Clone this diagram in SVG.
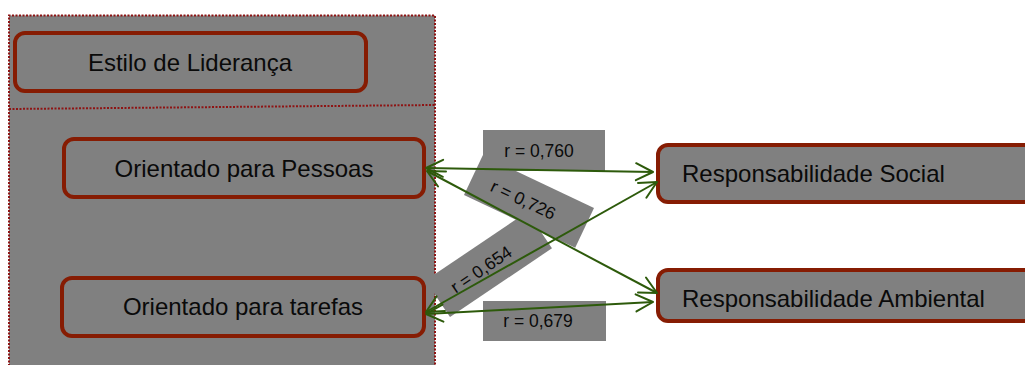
<svg xmlns="http://www.w3.org/2000/svg" width="1025" height="365" viewBox="0 0 1025 365">
<defs>
<style>
.node{fill:#808080;stroke:#861c03;stroke-width:4}
.lbl{fill:#808080}
.dot{fill:none;stroke:#8e1414;stroke-width:2;stroke-dasharray:2 1.5}
.t{font-family:"Liberation Sans",Arial,sans-serif;font-size:24px;fill:#0a0a0a}
.r{font-family:"Liberation Sans",Arial,sans-serif;font-size:17.5px;fill:#0a0a0a}
.c{fill:none;stroke:#2d5a0b;stroke-width:2;marker-start:url(#ah);marker-end:url(#ah)}
</style>
<marker id="ah" markerUnits="userSpaceOnUse" markerWidth="22" markerHeight="22" viewBox="-19 -11 22 22" refX="0" refY="0" orient="auto-start-reverse" overflow="visible">
<path d="M-17,-8.5 L0,0 L-17,8.5" fill="none" stroke="#2d5a0b" stroke-width="2" stroke-linejoin="round" stroke-linecap="round"/>
</marker>
</defs>
<rect width="1025" height="365" fill="#ffffff"/>
<g id="container">
<rect x="9" y="15.5" width="426" height="350" fill="#808080"/>
<path class="dot" d="M9,366 V15.5 H435 V366"/>
<path class="dot" d="M9,109 L435,105"/>
</g>
<g id="label-shapes">
<rect class="lbl" x="483" y="130" width="122" height="41"/>
<rect class="lbl" x="483" y="301" width="123" height="40"/>
<rect class="lbl" x="-61.5" y="-22" width="123" height="44" transform="translate(529,201.5) rotate(25.3)"/>
<rect class="lbl" x="-61.5" y="-22" width="123" height="44" transform="translate(488.7,264.4) rotate(-34)"/>
</g>
<g id="estilo">
<rect class="node" x="15" y="33" width="351" height="58" rx="10"/>
<text class="t" x="190" y="71" text-anchor="middle">Estilo de Liderança</text>
</g>
<g id="pessoas">
<rect class="node" x="64" y="139" width="360" height="58" rx="10"/>
<text class="t" x="244" y="177" text-anchor="middle">Orientado para Pessoas</text>
</g>
<g id="tarefas">
<rect class="node" x="62" y="278" width="362" height="58" rx="10"/>
<text class="t" x="243" y="315" text-anchor="middle">Orientado para tarefas</text>
</g>
<g id="social">
<rect class="node" x="658" y="145" width="400" height="57" rx="10"/>
<text class="t" x="682" y="182">Responsabilidade Social</text>
</g>
<g id="ambiental">
<rect class="node" x="658" y="270" width="400" height="51" rx="10"/>
<text class="t" x="682" y="307">Responsabilidade Ambiental</text>
</g>
<g id="connectors">
<line class="c" x1="426" y1="168" x2="653" y2="172"/>
<line class="c" x1="427" y1="171" x2="657" y2="293"/>
<line class="c" x1="426" y1="312" x2="657" y2="182"/>
<line class="c" x1="426" y1="314" x2="653" y2="302"/>
</g>
<g id="labels">
<text class="r" x="539" y="157" text-anchor="middle">r = 0,760</text>
<text class="r" x="538" y="327" text-anchor="middle">r = 0,679</text>
<text class="r" x="-6" y="7" text-anchor="middle" transform="translate(529,201.5) rotate(25.3)">r = 0,726</text>
<text class="r" x="-9" y="6" text-anchor="middle" transform="translate(488.7,264.4) rotate(-34)">r = 0,654</text>
</g>
</svg>
